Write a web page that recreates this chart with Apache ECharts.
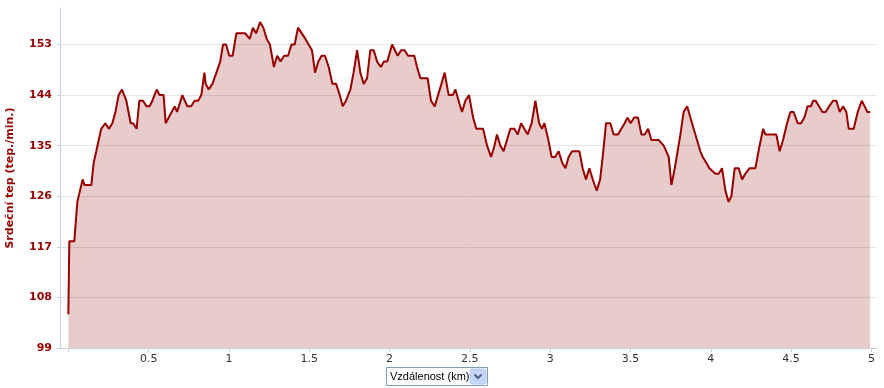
<!DOCTYPE html>
<html>
<head>
<meta charset="utf-8">
<script src="https://cdn.jsdelivr.net/npm/echarts@6/dist/echarts.min.js"></script>
<style>
html,body{margin:0;padding:0;background:#fff;}
#chart{width:884px;height:388px;}
</style>
</head>
<body>
<div id="chart"></div>
<script>
// Distance (km)
var distanceKm = [
0.000,0.006,0.037,0.048,0.056,0.089,0.100,0.143,0.158,0.174,0.189,0.205,0.230,0.253,0.274,0.293,0.313,0.334,0.361,0.388,
0.403,0.425,0.442,0.465,0.486,0.506,0.523,0.550,0.568,0.593,0.606,0.625,0.662,0.677,0.710,0.722,0.741,0.764,0.786,0.808,
0.828,0.847,0.855,0.874,0.897,0.922,0.946,0.963,0.982,1.002,1.023,1.046,1.102,1.129,1.149,1.169,1.194,1.214,1.235,1.255,
1.280,1.300,1.321,1.344,1.368,1.389,1.409,1.430,1.476,1.517,1.536,1.557,1.577,1.598,1.621,1.644,1.667,1.690,1.708,1.729,
1.756,1.776,1.798,1.818,1.839,1.860,1.880,1.901,1.922,1.945,1.966,1.986,2.016,2.050,2.073,2.094,2.115,2.154,2.171,2.192,
2.237,2.258,2.281,2.302,2.323,2.343,2.368,2.393,2.410,2.430,2.451,2.472,2.495,2.520,2.540,2.582,2.607,2.632,2.653,2.669,
2.690,2.710,2.731,2.752,2.777,2.798,2.819,2.839,2.860,2.885,2.908,2.931,2.949,2.964,2.989,3.009,3.031,3.053,3.074,3.095,
3.115,3.136,3.182,3.202,3.223,3.244,3.265,3.277,3.290,3.311,3.327,3.348,3.375,3.395,3.423,3.443,3.464,3.481,3.501,3.523,
3.547,3.568,3.589,3.610,3.630,3.676,3.707,3.738,3.755,3.776,3.811,3.831,3.853,3.873,3.904,3.935,3.950,3.971,3.991,4.029,
4.049,4.070,4.091,4.111,4.128,4.149,4.174,4.195,4.215,4.242,4.278,4.304,4.326,4.340,4.408,4.429,4.450,4.475,4.496,4.516,
4.541,4.562,4.583,4.603,4.624,4.637,4.653,4.674,4.695,4.715,4.737,4.761,4.782,4.803,4.824,4.844,4.859,4.890,4.915,4.940,
4.958,4.975,4.992
];
// Heart rate (beats/min)
var heartRate = [
105,118,118,122,125,129,128,128,132,134,136,138,139,138,139,141,144,145,143,139,
139,138,143,143,142,142,143,145,144,144,139,140,142,141,144,144,142,142,143,143,
144,148,146,145,146,148,150,153,153,151,151,155,155,154,156,155,157,156,154,153,
149,151,150,151,151,153,153,156,154,152,148,150,151,151,149,146,146,144,142,143,
145,148,152,148,146,147,152,152,150,149,150,150,153,151,152,152,151,151,149,147,
147,143,142,144,146,148,144,144,145,143,141,143,144,140,138,138,135,133,135,137,
135,134,136,138,138,137,139,138,137,139,143,139,138,139,136,133,133,134,132,131,
133,134,134,131,129,131,129,128,127,129,133,139,139,137,137,138,139,140,139,140,
140,137,137,138,136,136,135,133,128,131,137,141,142,140,137,134,133,132,131,130,
130,131,127,125,126,131,131,129,130,131,131,135,138,137,137,134,136,139,141,141,
139,139,140,142,142,143,143,142,141,141,142,143,143,141,142,141,138,138,141,143,
142,141,141
];
// Axis ticks / labels
var xTickValues = [0,0.5,1,1.5,2,2.5,3,3.5,4,4.5,5];
var xLabelValues = [0.5,1,1.5,2,2.5,3,3.5,4,4.5,5];
var yMin = 99, yMax = 159.5, yStep = 9;
var yAxisTitle = 'Srdeční tep (tep./min.)';
var xSelectorText = 'Vzdálenost (km)';

var seriesData = distanceKm.map(function(d, i){ return [d, heartRate[i]]; });

var chart = echarts.init(document.getElementById('chart'), null, {renderer:'canvas'});
chart.setOption({
  animation: false,
  backgroundColor: '#ffffff',
  grid: {left: 60, right: 7, top: 8, bottom: 40, containLabel: false, outerBoundsMode: 'none'},
  xAxis: {
    type: 'value',
    min: -0.052,
    max: 5.035,
    axisLine: {show: true, onZero: false, lineStyle: {color: '#c0d0e0', width: 1}},
    axisTick: {show: true, customValues: xTickValues, length: 4, lineStyle: {color: '#c0d0e0'}},
    axisLabel: {
      customValues: xLabelValues,
      color: '#333333',
      fontFamily: 'DejaVu Sans',
      fontSize: 11,
      margin: 6,
      formatter: function(v){ return String(v); }
    },
    splitLine: {show: false}
  },
  yAxis: {
    type: 'value',
    min: yMin,
    max: yMax,
    interval: yStep,
    name: yAxisTitle,
    nameLocation: 'middle',
    nameRotate: 90,
    nameGap: 44,
    nameTextStyle: {color: '#990000', fontFamily: 'DejaVu Sans', fontWeight: 'bold', fontSize: 11},
    axisLine: {show: true, onZero: false, lineStyle: {color: '#c0d0e0', width: 1}},
    axisTick: {show: true, length: 3, lineStyle: {color: '#c0d0e0'}},
    axisLabel: {
      color: '#990000',
      fontFamily: 'DejaVu Sans',
      fontWeight: 'bold',
      fontSize: 11,
      margin: 8,
      showMaxLabel: false
    },
    splitLine: {show: true, showMaxLine: false, showMinLine: false, lineStyle: {color: '#e6e6e6', width: 1}}
  },
  series: [{
    type: 'line',
    data: seriesData,
    symbol: 'none',
    smooth: false,
    lineStyle: {color: '#990000', width: 2},
    areaStyle: {color: 'rgba(142,0,2,0.204)', opacity: 1, origin: 'start'},
    z: 3
  }],
  graphic: [
    {type: 'rect', shape: {x: 386.5, y: 367.5, width: 101, height: 18}, style: {fill: '#ffffff', stroke: '#7f9db9', lineWidth: 1}, z: 10},
    {type: 'text', style: {x: 390, y: 377, text: xSelectorText, fill: '#000000', font: '11px "Liberation Sans", Arial, sans-serif', textVerticalAlign: 'middle'}, z: 11},
    {type: 'rect', shape: {x: 470, y: 369, width: 16, height: 15, r: 2}, style: {fill: '#c6d6fb', stroke: '#b4c8f4', lineWidth: 1}, z: 11},
    {type: 'polyline', shape: {points: [[474.5, 374.5], [478, 378], [481.5, 374.5]]}, style: {stroke: '#4d6185', lineWidth: 2, fill: null}, z: 12}
  ]
});
</script>
</body>
</html>
